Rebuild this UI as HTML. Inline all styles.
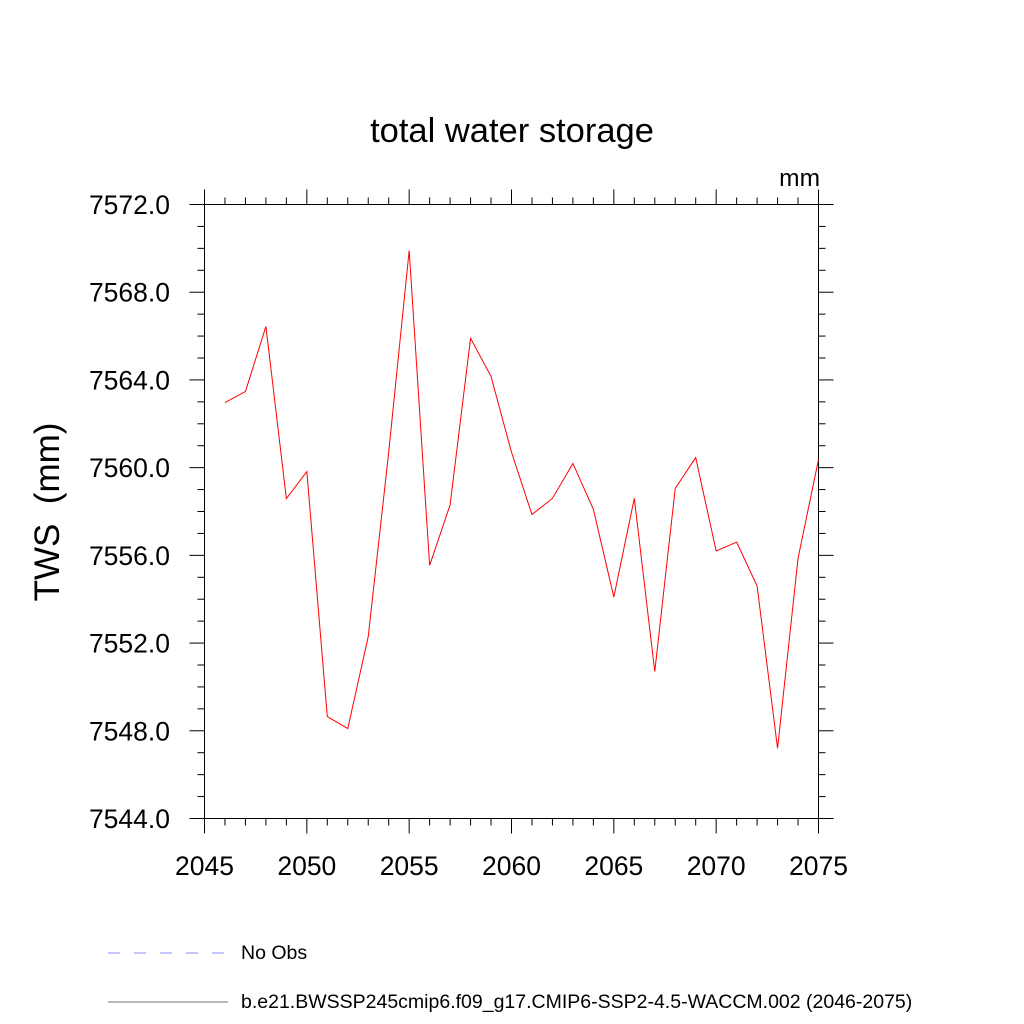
<!DOCTYPE html>
<html><head><meta charset="utf-8"><style>body{margin:0;background:#fff}svg{display:block}text{font-family:"Liberation Sans",sans-serif}</style></head>
<body>
<svg id="chart" width="1024" height="1024" xmlns="http://www.w3.org/2000/svg">
<text x="512" y="142" font-size="34.5" text-anchor="middle">total water storage</text>
<text x="820" y="186" font-size="24.5" text-anchor="end">mm</text>
<text x="0" y="0" font-size="35" text-anchor="middle" transform="translate(59,512) rotate(-90)" xml:space="preserve">TWS  (mm)</text>
<g id="axes"></g>
<rect x="204.5" y="204.5" width="614" height="614" fill="none" stroke="#000" stroke-width="1"/>
<polyline id="series" fill="none" stroke="#f00" stroke-width="1"/>
<line x1="108" y1="953" x2="228" y2="953" stroke="#66f" stroke-width="0.8" stroke-dasharray="12,14"/>
<text x="241" y="959" font-size="19.5">No Obs</text>
<line x1="108" y1="1002" x2="228" y2="1002" stroke="#444" stroke-width="0.8"/>
<text x="241" y="1008" font-size="19.5">b.e21.BWSSP245cmip6.f09_g17.CMIP6-SSP2-4.5-WACCM.002 (2046-2075)</text>
</svg>
<script>
const years=[2046,2047,2048,2049,2050,2051,2052,2053,2054,2055,2056,2057,2058,2059,2060,2061,2062,2063,2064,2065,2066,2067,2068,2069,2070,2071,2072,2073,2074,2075];
const tws=[7562.97,7563.47,7566.44,7558.59,7559.82,7548.65,7548.1,7552.3,7560.7,7569.9,7555.54,7558.3,7565.9,7564.16,7560.7,7557.86,7558.6,7560.19,7558.1,7554.1,7558.6,7550.7,7559.05,7560.46,7556.2,7556.6,7554.6,7547.2,7555.86,7560.37];
const xTicks=[2045,2050,2055,2060,2065,2070,2075];
const yTicks=[7544,7548,7552,7556,7560,7564,7568,7572];
const X0=204.5,X1=818.5,Y0=818.5,Y1=204.5;
const xs=v=>X0+(v-2045)/30*(X1-X0);
const ys=v=>Y0-(v-7544)/28*(Y0-Y1);
const NS='http://www.w3.org/2000/svg';
const g=document.getElementById('axes');
function ln(x1,y1,x2,y2,name){const l=document.createElementNS(NS,'line');
l.setAttribute('x1',x1);l.setAttribute('y1',y1);l.setAttribute('x2',x2);l.setAttribute('y2',y2);l.setAttribute('stroke','#000');


g.appendChild(l);}
function tx(x,y,s,anchor,name){const t=document.createElementNS(NS,'text');t.setAttribute('x',x);t.setAttribute('y',y);t.setAttribute('font-size','26.5');t.setAttribute('text-anchor',anchor);t.textContent=s;


g.appendChild(t);}
for(let v=7544;v<=7572;v+=1){const y=ys(v);const maj=(v%4===0);const L=maj?15:7;
ln(X0-L,y,X0,y,maj?'y-major-tick':'y-minor-tick');ln(X1,y,X1+L,y,maj?'y-major-tick':'y-minor-tick');}
yTicks.forEach(v=>tx(170,ys(v)+9.5,v.toFixed(1),'end','y-tick-label'));
for(let v=2045;v<=2075;v++){const x=xs(v);const maj=(v%5===0);const L=maj?15:7;
ln(x,Y0,x,Y0+L,maj?'x-major-tick':'x-minor-tick');ln(x,Y1-L,x,Y1,maj?'x-major-tick':'x-minor-tick');}
xTicks.forEach(v=>tx(xs(v),875,String(v),'middle','x-tick-label'));
document.getElementById('series').setAttribute('points',years.map((y,i)=>xs(y)+','+ys(tws[i])).join(' '));
</script>
</body></html>
